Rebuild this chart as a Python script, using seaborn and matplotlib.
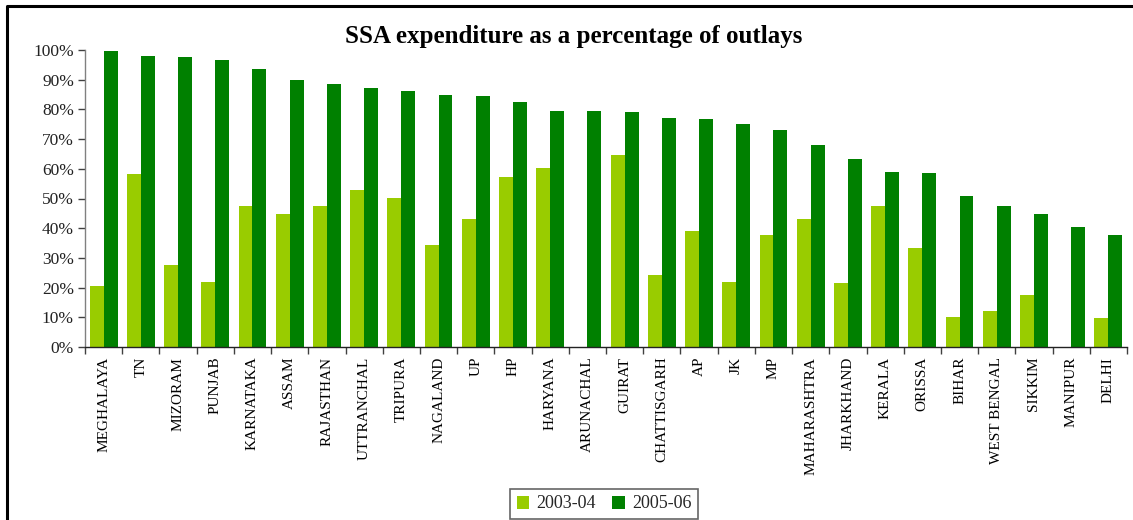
import matplotlib
matplotlib.use("Agg")
import matplotlib.pyplot as plt
from matplotlib.lines import Line2D
from matplotlib.ticker import FixedLocator, PercentFormatter
import numpy as np
import pandas as pd
import seaborn as sns

states = ["MEGHALAYA", "TN", "MIZORAM", "PUNJAB", "KARNATAKA", "ASSAM", "RAJASTHAN",
          "UTTRANCHAL", "TRIPURA", "NAGALAND", "UP", "HP", "HARYANA", "ARUNACHAL",
          "GUIRAT", "CHATTISGARH", "AP", "JK", "MP", "MAHARASHTRA", "JHARKHAND",
          "KERALA", "ORISSA", "BIHAR", "WEST BENGAL", "SIKKIM", "MANIPUR", "DELHI"]
pct_2003_04 = [20.6, 58.3, 27.7, 22.0, 47.6, 44.9, 47.6, 53.0, 50.3, 34.4, 43.2, 57.3, 60.4, 0.0,
               64.7, 24.3, 39.2, 22.0, 37.8, 43.2, 21.7, 47.6, 33.4, 10.2, 12.2, 17.6, 0.0, 9.9]
pct_2005_06 = [99.8, 98.1, 97.7, 96.7, 93.7, 90.0, 88.7, 87.3, 86.3, 84.9, 84.6, 82.6, 79.6, 79.6,
               79.2, 77.2, 76.9, 75.2, 73.2, 68.1, 63.4, 59.0, 58.7, 51.0, 47.6, 44.9, 40.5, 37.8]
years = ["2003-04", "2005-06"]
colors = ["#99CC00", "#008000"]

df = pd.DataFrame({
    "state": states * 2,
    "year": [years[0]] * len(states) + [years[1]] * len(states),
    "pct": pct_2003_04 + pct_2005_06,
})

sns.set_style("white")
plt.rcParams["font.family"] = ["Liberation Serif", "DejaVu Serif"]

fig = plt.figure(figsize=(11.33, 5.2), dpi=100)
ax = fig.add_axes([85 / 1133, 1 - 347 / 520, (1127 - 85) / 1133, (347 - 50) / 520])

sns.barplot(data=df, x="state", y="pct", hue="year", palette=colors, width=0.75,
            saturation=1, errorbar=None, ax=ax, legend=True, linewidth=0,
            edgecolor="none")

ax.set_ylim(0, 100)
ax.set_xlim(-0.5, len(states) - 0.5)
ax.yaxis.set_major_locator(FixedLocator(np.arange(0, 101, 10)))
ax.yaxis.set_major_formatter(PercentFormatter(decimals=0))
ax.set_xlabel("")
ax.set_ylabel("")

# category separators as minor ticks on the x axis
ax.xaxis.set_minor_locator(FixedLocator(np.arange(-0.5, len(states), 1.0)))
ax.tick_params(axis="x", which="both", bottom=True)
ax.tick_params(axis="x", which="major", length=0, pad=7, labelsize=11, rotation=90,
               labelcolor="black")
ax.tick_params(axis="x", which="minor", length=5, width=1, color="#404040", direction="out")
ax.tick_params(axis="y", which="major", left=True, length=5, width=1, color="#404040",
               direction="out", labelsize=12.5, labelcolor="#222222", pad=3)

for side in ("top", "right"):
    ax.spines[side].set_visible(False)
ax.spines["left"].set_color("#808080")
ax.spines["left"].set_linewidth(1)
ax.spines["bottom"].set_color("#222222")
ax.spines["bottom"].set_linewidth(1)

leg = ax.legend(loc="center", bbox_to_anchor=(604 / 1133, 1 - 504 / 520),
                bbox_transform=fig.transFigure, ncol=2, frameon=True, fancybox=False,
                fontsize=13, handlelength=0.7, handleheight=0.7, handletextpad=0.4,
                columnspacing=0.9, borderpad=0.35, title=None)
leg.get_frame().set_edgecolor("#404040")
leg.get_frame().set_linewidth(1.2)

fig.text(574 / 1133, 1 - 36 / 520, "SSA expenditure as a percentage of outlays",
         ha="center", va="center", fontsize=18, fontweight="bold", color="black")

# outer chart frame
fig.add_artist(Line2D([6.5 / 1133, 6.5 / 1133, 1.01], [-0.01, 1 - 5.5 / 520, 1 - 5.5 / 520],
                      transform=fig.transFigure, color="black", linewidth=2.2))

fig.savefig("out.png", dpi=100)
